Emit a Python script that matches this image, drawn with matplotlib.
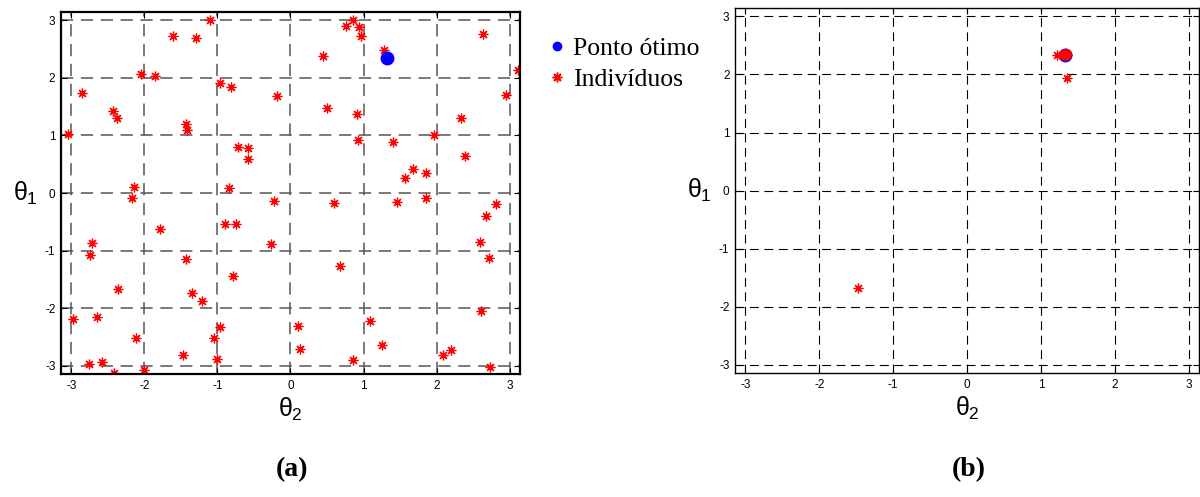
import numpy as np
import matplotlib
matplotlib.use("Agg")
import matplotlib.pyplot as plt
from matplotlib.lines import Line2D

plt.rcParams["font.family"] = ["Liberation Sans", "DejaVu Sans"]
plt.rcParams["mathtext.fontset"] = "custom"
plt.rcParams["mathtext.rm"] = "Liberation Sans"
plt.rcParams["mathtext.it"] = "Liberation Sans"

# === Dados (a): populacao inicial ===
theta2_a = [-1.10, -1.61, -1.29, -2.05, -1.85, -0.96, -0.82, -0.18, -2.85, -2.43,
            -2.38, -3.05, -1.43, -1.41, -0.72, -0.585, -0.585, -2.14, -2.17, -0.845,
            -0.22, 0.854, 0.76, 0.94, 0.97, 0.44, 1.28, 2.63, 3.11, 2.95,
            0.50, 0.91, 2.33, 0.93, 1.40, 1.96, 2.385, 1.68, 1.86, 1.565,
            0.60, 1.455, 1.86, 2.82, -1.79, -0.895, -0.75, -2.71, -2.74, -0.27,
            -1.43, -0.79, -2.36, -1.35, -1.21, -2.98, -2.645, -2.11, -0.97, -1.04,
            -1.47, -1.00, -2.76, -2.58, -2.41, -2.01, 0.11, 0.13, 2.68, 2.60,
            2.72, 0.68, 2.61, 1.09, 1.25, 0.86, 2.09, 2.20, 2.73]
theta1_a = [3.00, 2.72, 2.69, 2.06, 2.04, 1.91, 1.85, 1.69, 1.73, 1.43,
            1.31, 1.02, 1.20, 1.09, 0.80, 0.78, 0.60, 0.11, -0.08, 0.09,
            -0.13, 3.01, 2.91, 2.88, 2.72, 2.38, 2.49, 2.77, 2.14, 1.70,
            1.47, 1.38, 1.31, 0.93, 0.88, 1.01, 0.65, 0.42, 0.35, 0.27,
            -0.18, -0.15, -0.09, -0.19, -0.62, -0.545, -0.545, -0.86, -1.08, -0.88,
            -1.14, -1.44, -1.67, -1.74, -1.87, -2.19, -2.15, -2.52, -2.32, -2.52,
            -2.81, -2.88, -2.97, -2.93, -3.13, -3.07, -2.30, -2.70, -0.39, -0.85,
            -1.12, -1.27, -2.04, -2.23, -2.64, -2.90, -2.81, -2.72, -3.02]

# === Dados (b): populacao final ===
theta2_b = [1.30, 1.32, 1.33, 1.34, 1.31, 1.35, 1.29, 1.36, 1.32, 1.34,
            1.225, 1.35, -1.47]
theta1_b = [2.34, 2.35, 2.33, 2.34, 2.36, 2.35, 2.33, 2.34, 2.32, 2.37,
            2.34, 1.94, -1.67]

# ponto otimo
opt_theta2 = 1.32
opt_theta1 = 2.34

ticks = [-3, -2, -1, 0, 1, 2, 3]
lim = [-np.pi, np.pi]

fig = plt.figure(figsize=(12, 4.97), dpi=100)
ax_a = fig.add_axes([0.0508, 0.2475, 0.3825, 0.728])
ax_b = fig.add_axes([0.6125, 0.2495, 0.3867, 0.734])

asterisk = (8, 2, 0)

for ax, gcol, glw, slw in [(ax_a, "#555555", 1.1, 1.6), (ax_b, "black", 0.8, 1.0)]:
    ax.set_xlim(lim)
    ax.set_ylim(lim)
    ax.set_xticks(ticks)
    ax.set_yticks(ticks)
    ax.set_xticklabels([str(t) for t in ticks])
    ax.set_yticklabels([str(t) for t in ticks])
    ax.tick_params(direction="in", length=4, width=0.8, labelsize=8.5,
                   top=True, right=True, pad=4)
    ax.grid(True, color=gcol, linestyle=(0, (8, 5)), linewidth=glw)
    ax.set_axisbelow(True)
    for s in ax.spines.values():
        s.set_linewidth(slw)
    ax.set_xlabel(r"$\theta_2$", fontsize=18, labelpad=3)
    ax.set_ylabel(r"$\theta_1$", fontsize=18, rotation=0, labelpad=14, va="center")

# (a)
ax_a.plot(theta2_a, theta1_a, linestyle="none", marker=asterisk, color="red",
          markersize=7, markeredgewidth=0.9)
ax_a.plot(opt_theta2, opt_theta1, linestyle="none", marker="o", color="blue",
          markersize=9)

# (b)
ax_b.plot(opt_theta2, opt_theta1, linestyle="none", marker="o", color="blue",
          markersize=9)
ax_b.plot(theta2_b, theta1_b, linestyle="none", marker=asterisk, color="red",
          markersize=7, markeredgewidth=0.9)

# legenda
h_opt = Line2D([], [], linestyle="none", marker="o", color="blue", markersize=6)
h_ind = Line2D([], [], linestyle="none", marker=asterisk, color="red",
               markersize=7, markeredgewidth=1.1)
fig.legend([h_opt, h_ind], ["Ponto ótimo", "Indivíduos"], loc="upper left",
           bbox_to_anchor=(0.443, 0.962), frameon=False, handlelength=0.6,
           handletextpad=0.3, labelspacing=0.32, borderpad=0.2,
           prop={"family": "Liberation Serif", "size": 18.5})

fig.text(0.243, 0.055, "(a)", ha="center", va="center", fontsize=20,
         fontweight="bold", family="Liberation Serif")
fig.text(0.807, 0.055, "(b)", ha="center", va="center", fontsize=20,
         fontweight="bold", family="Liberation Serif")

fig.savefig("out.png", dpi=100)
